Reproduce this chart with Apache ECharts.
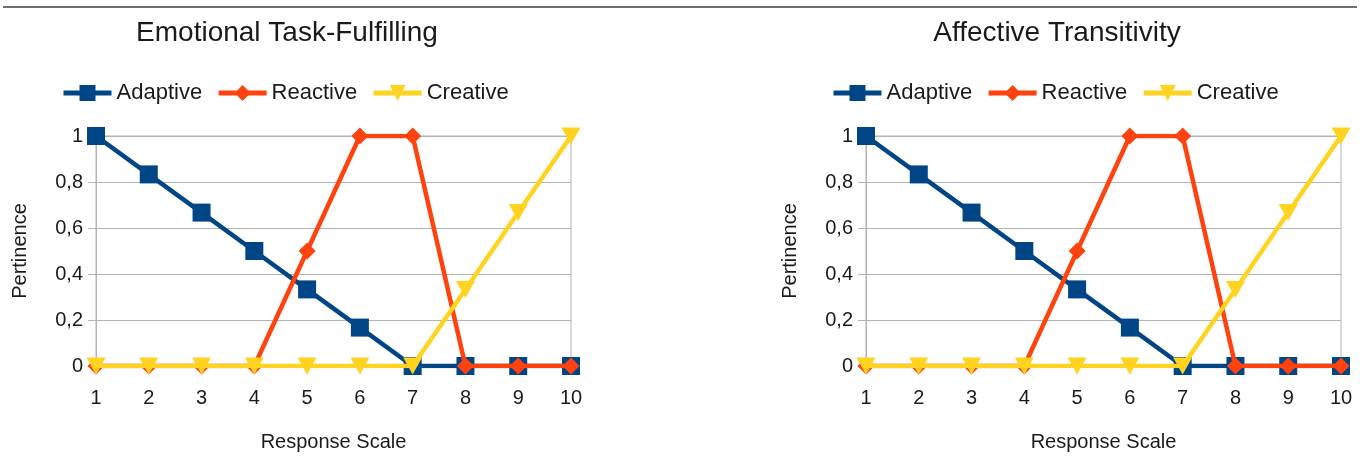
<!DOCTYPE html>
<html>
<head>
<meta charset="utf-8">
<script src="https://cdn.jsdelivr.net/npm/echarts@6/dist/echarts.min.js"></script>
<style>
  html, body { margin: 0; padding: 0; background: #fff; }
  #chart { width: 1365px; height: 457px; }
</style>
</head>
<body>
<div id="chart"></div>
<script>
// Response scale categories (x axis)
const categories = ['1', '2', '3', '4', '5', '6', '7', '8', '9', '10'];

// Pertinence of each response for the three profiles
const adaptive = [1, 0.833, 0.667, 0.5, 0.333, 0.167, 0, 0, 0, 0];
const reactive = [0, 0, 0, 0, 0.5, 1, 1, 0, 0, 0];
const creative = [0, 0, 0, 0, 0, 0, 0, 0.333, 0.667, 1];

// Panel titles
const panelTitles = ['Emotional Task-Fulfilling', 'Affective Transitivity'];

const seriesNames = ['Adaptive', 'Reactive', 'Creative'];
const colors = { Adaptive: '#004586', Reactive: '#ff420e', Creative: '#ffd320' };

const FONT = '"Liberation Sans", Arial, sans-serif';
const TEXT = '#1a1a1a';
const GRID_LINE = '#b3b3b3';

const panelLeft = [96, 866];
const panelWidth = 475;
const titleCenter = [282, 1052];
const legendLeft = [56, 826];

const chart = echarts.init(document.getElementById('chart'), null, { renderer: 'canvas' });

const grids = [], xAxes = [], yAxes = [], titles = [], legends = [], series = [];

panelTitles.forEach((t, i) => {
  grids.push({
    left: panelLeft[i], top: 136, width: panelWidth, height: 232,
    show: true, borderColor: GRID_LINE, borderWidth: 1, backgroundColor: 'transparent'
  });
  titles.push({
    text: t, left: titleCenter[i], top: 14, textAlign: 'center',
    textStyle: { fontFamily: FONT, fontSize: 28, fontWeight: 'normal', color: TEXT }
  });
  legends.push({
    left: legendLeft[i], top: 77, itemWidth: 48, itemHeight: 20, itemGap: 14,
    lineStyle: { width: 5 },
    textStyle: { fontFamily: FONT, fontSize: 22, color: TEXT },
    data: seriesNames
  });
  xAxes.push({
    type: 'category', gridIndex: i, data: categories, boundaryGap: false,
    name: 'Response Scale', nameLocation: 'middle', nameGap: 66,
    nameTextStyle: { fontFamily: FONT, fontSize: 20, color: TEXT },
    axisLine: { show: true, lineStyle: { color: GRID_LINE, width: 1 } },
    axisTick: { show: true, length: 8, lineStyle: { color: GRID_LINE } },
    axisLabel: { fontFamily: FONT, fontSize: 20, color: TEXT, margin: 22 },
    splitLine: { show: false }
  });
  yAxes.push({
    type: 'value', gridIndex: i, min: 0, max: 1, interval: 0.2,
    name: 'Pertinence', nameLocation: 'middle', nameGap: 66, nameRotate: 90,
    nameTextStyle: { fontFamily: FONT, fontSize: 20, color: TEXT },
    axisLine: { show: true, lineStyle: { color: GRID_LINE, width: 1 } },
    axisTick: { show: true, length: 8, lineStyle: { color: GRID_LINE } },
    axisLabel: {
      fontFamily: FONT, fontSize: 20, color: TEXT, margin: 13,
      formatter: v => String(Math.round(v * 10) / 10).replace('.', ',')
    },
    splitLine: { show: true, lineStyle: { color: GRID_LINE, width: 1 } }
  });

  const defs = [
    { name: 'Adaptive', data: adaptive, symbol: 'rect', size: 18, rotate: 0 },
    { name: 'Reactive', data: reactive, symbol: 'diamond', size: 17, rotate: 0 },
    { name: 'Creative', data: creative, symbol: 'triangle', size: [19, 17], rotate: 180 }
  ];
  defs.forEach((d, k) => {
    series.push({
      type: 'line', name: d.name, xAxisIndex: i, yAxisIndex: i, data: d.data,
      symbol: d.symbol, symbolSize: d.size, symbolRotate: d.rotate, showAllSymbol: true,
      color: colors[d.name],
      lineStyle: { width: 4.5, color: colors[d.name] },
      itemStyle: { color: colors[d.name] },
      z: 2 + k, animation: false
    });
  });
});

chart.setOption({
  animation: false,
  backgroundColor: '#ffffff',
  title: titles,
  legend: legends,
  grid: grids,
  xAxis: xAxes,
  yAxis: yAxes,
  series: series,
  graphic: [{
    type: 'line', shape: { x1: 3, y1: 7, x2: 1357, y2: 7 },
    style: { stroke: '#6e6e6e', lineWidth: 2 }, silent: true
  }]
});
</script>
</body>
</html>
